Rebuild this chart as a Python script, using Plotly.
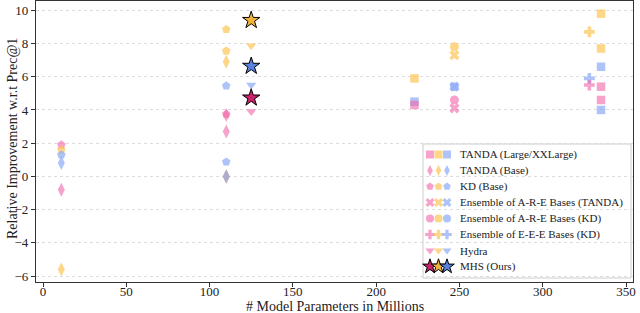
import plotly.graph_objects as go

# ---------------- data ----------------
# colour keys: p = pink, y = yellow, b = blue
tanda_large_x = [223, 223, 223, 335, 335, 335, 335, 335, 335]
tanda_large_y = [5.9, 4.5, 4.3, 9.8, 7.7, 6.6, 5.4, 4.6, 4.0]
tanda_large_c = ["y", "b", "p", "y", "y", "b", "p", "p", "b"]

tanda_base_x = [11, 11, 11, 110, 110, 110, 110, 110, 110]
tanda_base_y = [-0.8, -5.6, 0.8, 0.0, 0.0, 0.0, 6.9, 3.7, 2.7]
tanda_base_c = ["p", "y", "b", "p", "y", "b", "y", "p", "p"]

kd_base_x = [11, 11, 11, 110, 110, 110, 110, 110]
kd_base_y = [1.9, 1.6, 1.3, 8.85, 7.55, 5.45, 3.75, 0.87]
kd_base_c = ["p", "y", "b", "y", "y", "b", "p", "b"]

ens_are_tanda_x = [247, 247, 247]
ens_are_tanda_y = [7.3, 5.4, 4.1]
ens_are_tanda_c = ["y", "b", "p"]

ens_are_kd_x = [247, 247, 247]
ens_are_kd_y = [7.8, 5.4, 4.6]
ens_are_kd_c = ["y", "b", "p"]

ens_eee_kd_x = [328, 328, 328]
ens_eee_kd_y = [8.7, 5.9, 5.5]
ens_eee_kd_c = ["y", "b", "p"]

hydra_x = [125, 125, 125]
hydra_y = [7.87, 5.5, 3.9]
hydra_c = ["y", "b", "p"]

mhs_x = [125, 125, 125]
mhs_y = [9.4, 6.64, 4.73]
mhs_c = ["y", "b", "p"]

legend_labels = [
    "TANDA (Large/XXLarge)",
    "TANDA (Base)",
    "KD (Base)",
    "Ensemble of A-R-E Bases (TANDA)",
    "Ensemble of A-R-E Bases (KD)",
    "Ensemble of E-E-E Bases (KD)",
    "Hydra",
    "MHS (Ours)",
]
legend_colour_order = ["p", "y", "b"]

x_ticks = [0, 50, 100, 150, 200, 250, 300, 350]
y_ticks = [-6, -4, -2, 0, 2, 4, 6, 8, 10]
x_title = "# Model Parameters in Millions"
y_title = "Relative Improvement w.r.t Prec@1"

# ---------------- style ----------------
LIGHT = {"p": "rgba(240,105,170,0.62)", "y": "rgba(252,196,84,0.70)", "b": "rgba(140,170,245,0.70)"}
DARK = {"p": "#c8236b", "y": "#f4b43c", "b": "#5a82dc"}
FONT = "Liberation Serif"

series = [
    (tanda_large_x, tanda_large_y, tanda_large_c, "square", 8.5, False),
    (tanda_base_x, tanda_base_y, tanda_base_c, "diamond-tall", 10, False),
    (kd_base_x, kd_base_y, kd_base_c, "pentagon", 9, False),
    (ens_are_tanda_x, ens_are_tanda_y, ens_are_tanda_c, "x", 9, False),
    (ens_are_kd_x, ens_are_kd_y, ens_are_kd_c, "circle", 9, False),
    (ens_eee_kd_x, ens_eee_kd_y, ens_eee_kd_c, "cross", 9, False),
    (hydra_x, hydra_y, hydra_c, "triangle-down", 9, False),
    (mhs_x, mhs_y, mhs_c, "star", 13, True),
]

fig = go.Figure()

L, R, T, B = 36, 633, 1, 282
W, H = R - L, B - T
def px(xp):
    return (xp - L) / W
def py(yp):
    return (B - yp) / H

# legend box (drawn below traces so the legend markers sit on top)
fig.add_shape(type="rect", xref="paper", yref="paper",
              x0=px(423), x1=px(631), y0=py(278), y1=py(144),
              line=dict(color="#cccccc", width=1), fillcolor="white",
              layer="below")

for xs, ys, cs, sym, size, star in series:
    cmap = DARK if star else LIGHT
    fig.add_trace(go.Scatter(
        x=xs, y=ys, mode="markers", showlegend=False, hoverinfo="skip",
        marker=dict(symbol=sym, size=size, color=[cmap[c] for c in cs],
                    line=dict(width=1 if star else 0, color="black")),
    ))

# ---- custom legend (three colour markers per entry) drawn in paper space ----
row_y = [154.5 + 16.0 * i for i in range(len(legend_labels))]
mark_x = [430, 438.5, 447]
for i, (lab, (_, _, _, sym, size, star)) in enumerate(zip(legend_labels, series)):
    cmap = DARK if star else LIGHT
    fig.add_trace(go.Scatter(
        x=[px(v) for v in mark_x], y=[py(row_y[i])] * 3, xaxis="x2", yaxis="y2",
        mode="markers", showlegend=False, hoverinfo="skip",
        marker=dict(symbol=sym, size=(11 if star else 8),
                    color=[cmap[c] for c in legend_colour_order],
                    line=dict(width=1 if star else 0, color="black")),
    ))
    fig.add_annotation(x=px(458), y=py(row_y[i]), xref="paper", yref="paper",
                       text=lab, showarrow=False, xanchor="left", yanchor="middle",
                       font=dict(family=FONT, size=11, color="#222"))

# axis titles
fig.add_annotation(x=px(334.5), y=py(306.5), xref="paper", yref="paper", text=x_title,
                   showarrow=False, xanchor="center", yanchor="middle",
                   font=dict(family=FONT, size=14, color="#222"))
fig.add_annotation(x=px(12), y=py(139), xref="paper", yref="paper", text=y_title,
                   showarrow=False, xanchor="center", yanchor="middle", textangle=-90,
                   font=dict(family=FONT, size=14, color="#222"))

fig.update_layout(
    width=640, height=313,
    margin=dict(l=L, r=640 - R, t=T, b=313 - B, autoexpand=False),
    paper_bgcolor="white", plot_bgcolor="white",
    font=dict(family=FONT, size=13, color="#222"),
    xaxis=dict(range=[-4.2, 354.2], tickvals=x_ticks, showgrid=False, zeroline=False,
               showline=True, mirror=True, linecolor="#333", linewidth=1.3,
               ticks="outside", ticklen=4, tickcolor="#333", automargin=False,
               ticklabelstandoff=-7),
    yaxis=dict(range=[-6.36, 10.56], tickvals=y_ticks,
               ticktext=[("\u2212" + str(-v)) if v < 0 else str(v) for v in y_ticks],
               showgrid=True, gridcolor="#dddddd", griddash="dot", gridwidth=1,
               zeroline=False, showline=True, mirror=True, linecolor="#333", linewidth=1.3,
               ticks="outside", ticklen=4, tickcolor="#333", automargin=False),
    xaxis2=dict(overlaying="x", range=[0, 1], visible=False, domain=[0, 1]),
    yaxis2=dict(overlaying="y", range=[0, 1], visible=False, domain=[0, 1]),
)

fig.write_html("out.html", config={"displayModeBar": False},
               post_script="document.body.style.margin='0';document.body.style.overflow='hidden';")
